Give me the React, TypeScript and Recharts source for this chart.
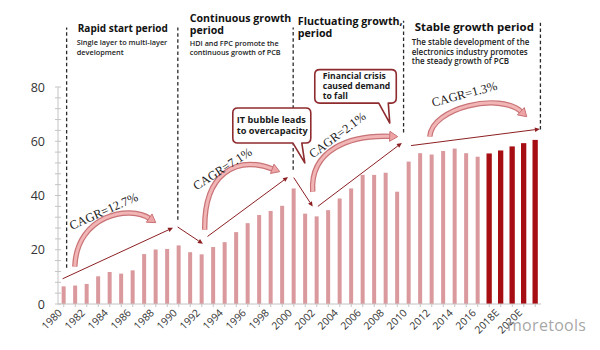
import React from 'react';
import { BarChart, Bar, XAxis, YAxis, ReferenceLine, ReferenceDot } from 'recharts';

// ---------- data ----------
const years = [
  '1980', '1981', '1982', '1983', '1984', '1985', '1986', '1987', '1988', '1989',
  '1990', '1991', '1992', '1993', '1994', '1995', '1996', '1997', '1998', '1999',
  '2000', '2001', '2002', '2003', '2004', '2005', '2006', '2007', '2008', '2009',
  '2010', '2011', '2012', '2013', '2014', '2015', '2016',
  '2017E', '2018E', '2019E', '2020E', '2021E',
];
const actualValues = [
  6.5, 6.8, 7.4, 10.2, 11.8, 11.2, 12.4, 18.4, 20.1, 20.3,
  21.6, 19.1, 18.3, 21.0, 22.8, 26.5, 29.8, 32.8, 34.3, 36.2,
  42.6, 33.3, 32.3, 34.6, 38.9, 42.6, 47.6, 47.6, 48.4, 41.4,
  52.5, 55.6, 55.1, 56.4, 57.3, 55.6, 54.3,
];
const forecastValues = [55.5, 56.6, 58.1, 59.3, 60.5];
const firstYear = 1980;
const yTicks = [0, 4, 8, 12, 16, 20, 24, 28, 32, 36, 40, 44, 48, 52, 56, 60, 64, 68, 72, 76, 80];
const yLabelTicks = [0, 20, 40, 60, 80];

// period dividers (year position, value range)
const periodDividers = [
  { x: 1980.25, from: 13.4, to: 101.9 },
  { x: 1989.92, from: 31.1, to: 101.9 },
  { x: 1999.95, from: 49.5, to: 101.9 },
  { x: 2009.55, from: 63.2, to: 104.4 },
  { x: 2021.45, from: 64.3, to: 103.7 },
];
const periodTitles = [
  ['Rapid start period'],
  ['Continuous growth', 'period'],
  ['Fluctuating growth,', 'period'],
  ['Stable growth period'],
];
const periodNotes = [
  ['Single layer to multi-layer', 'development'],
  ['HDI and FPC promote the', 'continuous growth of PCB'],
  [],
  ['The stable development of the', 'electronics industry promotes', 'the steady growth of PCB'],
];
const periodTextAnchors = [
  { x: 1981.22, y: 100.2 },
  { x: 1990.96, y: 104.0 },
  { x: 2000.35, y: 102.9 },
  { x: 2010.52, y: 100.7 },
];

const trendArrows = [
  { from: { x: 1979.9, y: 9.3 }, to: { x: 1989.5, y: 28.1 } },
  { from: { x: 1989.9, y: 28.4 }, to: { x: 1992.1, y: 22.2 } },
  { from: { x: 1992.5, y: 24.9 }, to: { x: 1999.5, y: 46.8 } },
  { from: { x: 2000.0, y: 46.6 }, to: { x: 2001.65, y: 35.9 } },
  { from: { x: 2002.1, y: 36.0 }, to: { x: 2009.4, y: 59.4 } },
  { from: { x: 2010.2, y: 58.4 }, to: { x: 2021.4, y: 64.5 } },
];
const cagrArrows = [
  { from: { x: 1980.96, y: 13.75 }, to: { x: 1988.0, y: 30.0 } },
  { from: { x: 1992.26, y: 27.4 }, to: { x: 1998.78, y: 48.8 } },
  { from: { x: 2001.65, y: 41.4 }, to: { x: 2009.04, y: 61.7 } },
  { from: { x: 2011.83, y: 61.7 }, to: { x: 2020.26, y: 69.05 } },
];
const cagrLabels = [
  { text: 'CAGR=12.7%', x: 1980.7, y: 27.3 },
  { text: 'CAGR=7.1%', x: 1991.54, y: 41.8 },
  { text: 'CAGR=2.1%', x: 2001.68, y: 53.6 },
  { text: 'CAGR=1.3%', x: 2012.11, y: 72.7 },
];
const callouts = [
  { lines: ['IT bubble leads', 'to overcapacity'], x: 2000.96, y: 52.0 },
  { lines: ['Financial crisis', 'caused demand', 'to fall'], x: 2008.35, y: 66.7 },
];

// ---------- styles ----------
const LIGHT = '#da999d';
const DARK = '#a60e13';
const ARROW = '#8c1f22';
const AXIS = '#c4c4c4';
const SANS = '"Open Sans", "Noto Sans", sans-serif';
const SERIF = '"Liberation Serif", "Times New Roman", serif';

const titleSizes = [10, 10.6, 10.7, 11.4];
const noteSizes = [7.35, 7.25, 7.25, 8];
const noteOffsets = [{ dx: -1, dy: 13.2 }, { dx: 0, dy: 24 }, { dx: 0, dy: 0 }, { dx: -3, dy: 14.3 }];
const cagrAngles = [-24, -33, -37, -15];
// cubic control points, in the frame of each curved arrow (along, across)
const cagrBends = [
  [0.288, 0.485, 0.845, 0.306],
  [0.347, 0.465, 0.734, 0.432],
  [0.2, 0.364, 0.613, 0.274],
  [0.079, 0.283, 0.784, 0.302],
];
const calloutLayout = [
  { l: -72, t: -55, r: 6, b: -20, tl: -12, tr: -3, tx: -68, ty: [-39.5, -28.5], fs: 9.2 },
  { l: -75, t: -53.5, r: 6.5, b: -20, tl: -11, tr: -1.5, tx: -67, ty: [-44, -34, -24], fs: 8.6 },
];

const data = years.map((label, i) => ({
  yr: firstYear + i,
  label,
  value: i < actualValues.length ? actualValues[i] : forecastValues[i - actualValues.length],
  forecast: i >= actualValues.length,
}));
const xTicks = data.map((d) => d.yr);

// ---------- shapes ----------
const BarShape = (props: any) => {
  const { x, y, width, height, payload } = props;
  const w = payload.forecast ? 5.3 : 4;
  const cx = x + width / 2;
  return <rect x={cx - w / 2} y={y} width={w} height={height} fill={payload.forecast ? DARK : LIGHT} />;
};

const YTick = (props: any) => {
  const { x, y, payload } = props;
  const v = payload.value;
  const major = yLabelTicks.includes(v);
  return (
    <g>
      <line x1={x - 3} x2={x + 3} y1={y} y2={y} stroke={AXIS} strokeWidth={1} />
      {major && (
        <text x={x - 13} y={y} dy="0.36em" textAnchor="end" fontSize={12.5} fill="#333" fontFamily={SANS}>
          {v}
        </text>
      )}
    </g>
  );
};

const XTick = (props: any) => {
  const { x, y, payload } = props;
  const idx = Math.round(payload.value - firstYear);
  return (
    <g>
      <line x1={x} x2={x} y1={y} y2={y + 3} stroke={AXIS} strokeWidth={1} />
      {idx % 2 === 0 && (
        <text
          transform={`translate(${x - 1},${y + 9.5}) rotate(-45)`}
          textAnchor="end"
          fontSize={10.3}
          fill="#333"
          fontFamily={SANS}
        >
          {years[idx]}
        </text>
      )}
    </g>
  );
};

const dashedShape = (p: any) => (
  <line x1={p.x1} y1={p.y1} x2={p.x2} y2={p.y2} stroke="#2a2a2a" strokeWidth={1.3} strokeDasharray="3.5 2.6" />
);

const arrowShape = (p: any) => {
  const { x1, y1, x2, y2 } = p;
  const dx = x2 - x1;
  const dy = y2 - y1;
  const len = Math.hypot(dx, dy) || 1;
  const ux = dx / len;
  const uy = dy / len;
  const hl = 5;
  const hw = 2.3;
  const bx = x2 - ux * hl;
  const by = y2 - uy * hl;
  return (
    <g>
      <line x1={x1} y1={y1} x2={bx} y2={by} stroke={ARROW} strokeWidth={1} />
      <polygon
        points={`${x2},${y2} ${bx - uy * hw},${by + ux * hw} ${bx + uy * hw},${by - ux * hw}`}
        fill={ARROW}
      />
    </g>
  );
};

const makeCurveShape = (bend: number[]) => (p: any) => {
  const { x1, y1, x2, y2 } = p;
  const dx = x2 - x1;
  const dy = y2 - y1;
  const c1x = x1 + bend[0] * dx + bend[1] * dy;
  const c1y = y1 + bend[0] * dy - bend[1] * dx;
  const c2x = x1 + bend[2] * dx + bend[3] * dy;
  const c2y = y1 + bend[2] * dy - bend[3] * dx;
  let ux = x2 - c2x;
  let uy = y2 - c2y;
  const ul = Math.hypot(ux, uy) || 1;
  ux /= ul;
  uy /= ul;
  const hl = 8;
  const hw = 5;
  const ex = x2 - ux * (hl - 1);
  const ey = y2 - uy * (hl - 1);
  const bx = x2 - ux * hl;
  const by = y2 - uy * hl;
  const d = `M${x1},${y1} C${c1x},${c1y} ${c2x},${c2y} ${ex},${ey}`;
  return (
    <g>
      <path d={d} fill="none" stroke="#c97376" strokeWidth={5.4} />
      <path d={d} fill="none" stroke="#f1b5b6" strokeWidth={3} />
      <polygon
        points={`${x2},${y2} ${bx - uy * hw},${by + ux * hw} ${bx + uy * hw},${by - ux * hw}`}
        fill="#eea4a6"
        stroke="#c97376"
        strokeWidth={1}
        strokeLinejoin="round"
      />
    </g>
  );
};

const makePeriodTextShape = (i: number) => (p: any) => {
  const { cx, cy } = p;
  const titles = periodTitles[i];
  const notes = periodNotes[i];
  const off = noteOffsets[i];
  return (
    <g>
      {titles.map((t, k) => (
        <text key={'t' + k} x={cx} y={cy + k * 12.5} fontSize={titleSizes[i]} fontWeight={700} fill="#111" fontFamily={SANS}>
          {t}
        </text>
      ))}
      {notes.map((t, k) => (
        <text
          key={'n' + k}
          x={cx + off.dx}
          y={cy + off.dy + k * 9.4}
          fontSize={noteSizes[i]}
          fontWeight={600}
          fill="#222"
          fontFamily={SANS}
        >
          {t}
        </text>
      ))}
    </g>
  );
};

const makeCagrTextShape = (i: number) => (p: any) => (
  <text
    transform={`translate(${p.cx},${p.cy}) rotate(${cagrAngles[i]})`}
    fontSize={12.4}
    fill="#1a1a1a"
    fontFamily={SERIF}
  >
    {cagrLabels[i].text}
  </text>
);

const makeCalloutShape = (i: number) => (p: any) => {
  const { cx, cy } = p;
  const L = calloutLayout[i];
  const r = 5;
  const l = cx + L.l;
  const t = cy + L.t;
  const rr = cx + L.r;
  const b = cy + L.b;
  const d = [
    `M${l + r},${t}`,
    `L${rr - r},${t}`,
    `Q${rr},${t} ${rr},${t + r}`,
    `L${rr},${b - r}`,
    `Q${rr},${b} ${rr - r},${b}`,
    `L${cx + L.tr},${b}`,
    `L${cx},${cy}`,
    `L${cx + L.tl},${b}`,
    `L${l + r},${b}`,
    `Q${l},${b} ${l},${b - r}`,
    `L${l},${t + r}`,
    `Q${l},${t} ${l + r},${t}`,
    'Z',
  ].join(' ');
  return (
    <g>
      <path d={d} fill="#fff" stroke="#8e2b2e" strokeWidth={1.6} strokeLinejoin="round" />
      {callouts[i].lines.map((line, k) => (
        <text key={k} x={cx + L.tx} y={cy + L.ty[k]} fontSize={L.fs} fontWeight={700} fill="#1a1a1a" fontFamily={SANS}>
          {line}
        </text>
      ))}
    </g>
  );
};

export default function App() {
  return (
    <div style={{ position: 'absolute', left: 0, top: 0, width: 600, height: 350, background: '#fff' }}>
      <BarChart width={600} height={350} data={data} margin={{ top: 87, right: 59, bottom: 0, left: 0 }}>
        <XAxis
          dataKey="yr"
          type="number"
          domain={[1979.5, 2021.5]}
          allowDataOverflow
          ticks={xTicks}
          height={46}
          interval={0}
          tickSize={0}
          tickMargin={0}
          tickLine={false}
          tick={<XTick />}
          axisLine={{ stroke: AXIS }}
        />
        <YAxis
          domain={[0, 80]}
          ticks={yTicks}
          interval={0}
          width={58}
          tickSize={0}
          tickMargin={0}
          tickLine={false}
          tick={<YTick />}
          axisLine={{ stroke: AXIS }}
        />
        <Bar dataKey="value" shape={BarShape} isAnimationActive={false} />

        {periodDividers.map((d, i) => (
          <ReferenceLine
            key={'div' + i}
            ifOverflow="visible"
            segment={[{ x: d.x, y: d.from }, { x: d.x, y: d.to }]}
            shape={dashedShape}
          />
        ))}
        {trendArrows.map((a, i) => (
          <ReferenceLine key={'ta' + i} ifOverflow="visible" segment={[a.from, a.to]} shape={arrowShape} />
        ))}
        {cagrArrows.map((a, i) => (
          <ReferenceLine key={'ca' + i} ifOverflow="visible" segment={[a.from, a.to]} shape={makeCurveShape(cagrBends[i])} />
        ))}
        {cagrLabels.map((c, i) => (
          <ReferenceDot key={'cl' + i} ifOverflow="visible" x={c.x} y={c.y} r={0} shape={makeCagrTextShape(i)} />
        ))}
        {periodTextAnchors.map((a, i) => (
          <ReferenceDot key={'pt' + i} ifOverflow="visible" x={a.x} y={a.y} r={0} shape={makePeriodTextShape(i)} />
        ))}
        {callouts.map((c, i) => (
          <ReferenceDot key={'co' + i} ifOverflow="visible" x={c.x} y={c.y} r={0} shape={makeCalloutShape(i)} />
        ))}
      </BarChart>
      <div
        style={{
          position: 'absolute',
          left: 507,
          top: 314,
          fontFamily: SANS,
          fontSize: 16,
          color: 'rgba(150,150,150,0.85)',
          letterSpacing: 0.3,
          pointerEvents: 'none',
        }}
      >
        moretools
      </div>
    </div>
  );
}
